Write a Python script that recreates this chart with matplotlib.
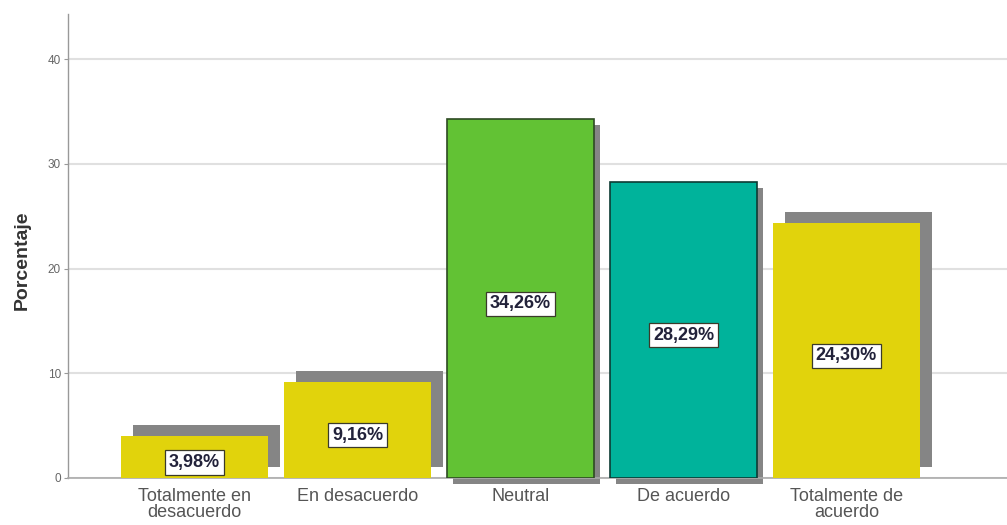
import matplotlib.pyplot as plt
import matplotlib.transforms as mtransforms

plt.rcParams["font.family"] = ["Liberation Sans", "DejaVu Sans"]

categories = ["Totalmente en\ndesacuerdo", "En desacuerdo", "Neutral",
              "De acuerdo", "Totalmente de\nacuerdo"]
porcentajes = [3.98, 9.16, 34.26, 28.29, 24.30]
etiquetas = ["3,98%", "9,16%", "34,26%", "28,29%", "24,30%"]
colores = ["#e1d30c", "#e1d30c", "#62c234", "#00b39b", "#e1d30c"]
# bordes oscuros solo en verde y turquesa, como en el original SPSS
bordes = [None, None, "#2e4a22", "#0d3b34", None]
yticks = [0, 10, 20, 30, 40]

fig = plt.figure(figsize=(10.07, 5.25), dpi=100)
ax = fig.add_axes([68 / 1007, 1 - 478 / 525, 1 - 68 / 1007, (478 - 14) / 525])

x = list(range(len(categories)))
ancho = 0.9

for i, v in enumerate(porcentajes):
    if bordes[i] is None:
        # sombra desplazada arriba a la derecha
        tr = mtransforms.offset_copy(ax.transData, fig, x=12, y=11, units="dots")
    else:
        tr = mtransforms.offset_copy(ax.transData, fig, x=6, y=-6, units="dots")
    ax.bar(x[i], v, width=ancho, color="#858585", transform=tr,
           zorder=2, clip_on=False)

for i, v in enumerate(porcentajes):
    if bordes[i] is None:
        ax.bar(x[i], v, width=ancho, color=colores[i], zorder=3)
    else:
        ax.bar(x[i], v, width=ancho, color=colores[i], edgecolor=bordes[i],
               linewidth=1.2, zorder=3)
    ax.text(x[i], v / 2 - 0.5, etiquetas[i], ha="center", va="center",
            fontsize=13, fontweight="bold", color="#22223a", zorder=5,
            bbox=dict(boxstyle="square,pad=0.2", facecolor="white",
                      edgecolor="#3a3a2a", linewidth=0.9))

ax.set_xlim(-0.776, 4.985)
ax.set_ylim(0, 44.3)
ax.set_yticks(yticks)
ax.set_yticklabels([str(t) for t in yticks])
ax.set_xticks(x)
ax.set_xticklabels(categories, fontsize=13, color="#555555", linespacing=0.95)

ax.yaxis.grid(True, color="#e0e0e0", linewidth=1.5, zorder=0)
ax.set_axisbelow(True)

for s in ["top", "right"]:
    ax.spines[s].set_visible(False)
ax.spines["left"].set_color("#999999")
ax.spines["bottom"].set_color("#aaaaaa")
ax.spines["left"].set_linewidth(1.0)
ax.spines["bottom"].set_linewidth(1.2)

ax.tick_params(axis="x", length=0, pad=7)
ax.tick_params(axis="y", length=3, width=0.8, color="#999999",
               labelsize=8.5, labelcolor="#666666", pad=2)

fig.text(22 / 1007, 1 - 260 / 525, "Porcentaje", rotation=90, ha="center",
         va="center", fontsize=14, fontweight="bold", color="#333333")

fig.savefig("out.png", dpi=100, facecolor="white")
